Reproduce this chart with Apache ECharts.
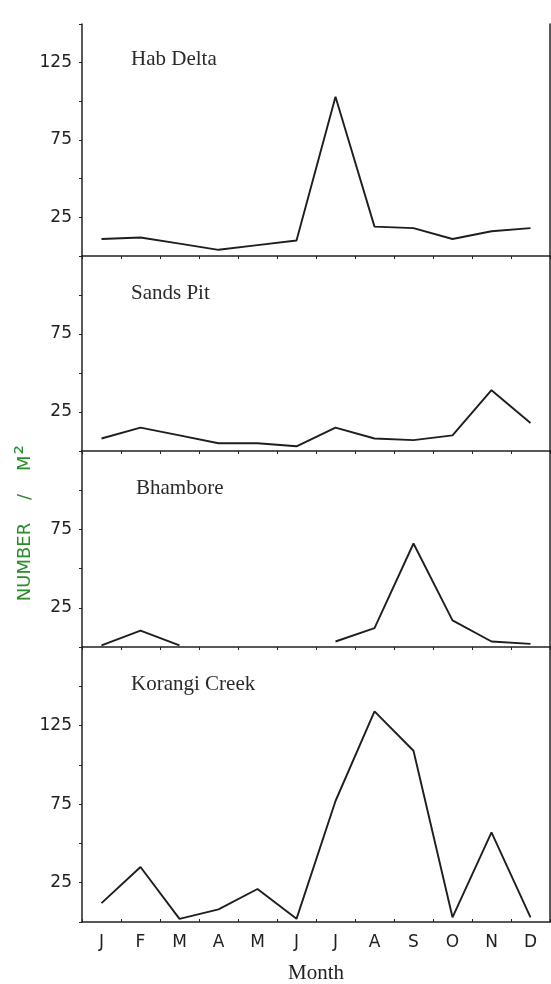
<!DOCTYPE html>
<html>
<head>
<meta charset="utf-8">
<script src="https://cdn.jsdelivr.net/npm/echarts@6/dist/echarts.min.js"></script>
<style>
  html, body { margin: 0; padding: 0; background: #fff; }
  #main { width: 551px; height: 984px; }
</style>
</head>
<body>
<div id="main"></div>
<script>
// data (number per m2, monthly)
const months = ['J', 'F', 'M', 'A', 'M', 'J', 'J', 'A', 'S', 'O', 'N', 'D'];
const habDelta = [11, 12, 8, 4, 7, 10, 103, 19, 18, 11, 16, 18];
const sandsPit = [8, 15, 10, 5, 5, 3, 15, 8, 7, 10, 39, 18];
const bhambore = [1, 10.5, 1, null, null, null, 3.5, 12, 66, 17, 3.5, 2];
const korangi = [12, 35, 2, 8, 21, 2, 77, 134, 109, 3, 57, 3];
const panelNames = ['Hab Delta', 'Sands Pit', 'Bhambore', 'Korangi Creek'];
const yMax = [150, 125, 125, 175];
const yLabelled = [25, 75, 125];

const allData = [habDelta, sandsPit, bhambore, korangi];

// layout of the four stacked panels
const tops = [24, 256, 451, 647];
const heights = [232, 195, 196, 275];
const titleLeft = [131, 131, 136, 131];
const ink = '#222';

const myChart = echarts.init(document.getElementById('main'));

const axisLine = { show: true, lineStyle: { color: ink, width: 1.5 } };

const option = {
  animation: false,
  backgroundColor: '#fff',
  title: panelNames.map((n, i) => ({
    text: n,
    left: titleLeft[i],
    top: tops[i] + (i === 0 ? 25 : 27),
    padding: 0,
    textStyle: {
      fontFamily: 'Liberation Serif',
      fontSize: 21,
      fontWeight: 'normal',
      color: '#2a2a2a',
      lineHeight: 21
    }
  })),
  grid: tops.map((t, i) => ({
    left: 82, right: 1, top: t, height: heights[i],
    containLabel: false,
    outerBoundsMode: 'none'
  })),
  xAxis: tops.map((t, i) => ({
    type: 'category',
    gridIndex: i,
    data: months,
    boundaryGap: true,
    axisLine: axisLine,
    axisTick: { show: true, length: 3, inside: i === 3, lineStyle: { color: ink } },
    axisLabel: {
      show: i === 3,
      interval: 0,
      color: ink,
      fontFamily: 'DejaVu Sans',
      fontSize: 17,
      margin: 12
    },
    name: i === 3 ? 'Month' : '',
    nameLocation: 'middle',
    nameGap: 41,
    nameTextStyle: { fontFamily: 'Liberation Serif', fontSize: 21, color: ink }
  })),
  yAxis: tops.map((t, i) => ({
    type: 'value',
    gridIndex: i,
    min: 0,
    max: yMax[i],
    interval: 25,
    axisLine: axisLine,
    axisTick: { show: true, length: 3, lineStyle: { color: ink } },
    splitLine: { show: false },
    axisLabel: {
      color: ink,
      fontFamily: 'DejaVu Sans',
      fontSize: 17,
      margin: 10,
      formatter: v => (yLabelled.indexOf(v) >= 0 && v < yMax[i]) ? String(v) : ''
    }
  })).concat(tops.map((t, i) => ({
    // right-hand frame line
    type: 'value',
    gridIndex: i,
    position: 'right',
    min: 0,
    max: yMax[i],
    axisLine: axisLine,
    axisTick: { show: false },
    axisLabel: { show: false },
    splitLine: { show: false }
  }))),
  series: allData.map((d, i) => ({
    name: panelNames[i],
    type: 'line',
    xAxisIndex: i,
    yAxisIndex: i,
    data: d,
    symbol: 'none',
    showSymbol: false,
    connectNulls: false,
    lineStyle: { color: '#1e1e1e', width: 1.9 }
  })),
  graphic: [{
    type: 'text',
    x: 25,
    y: 523,
    rotation: Math.PI / 2,
    style: {
      text: 'NUMBER    /    M{sup|²}',
      fill: '#2a8c2a',
      fontSize: 18,
      fontFamily: 'DejaVu Sans',
      fontWeight: 500,
      align: 'center',
      verticalAlign: 'middle',
      textAlign: 'center',
      textVerticalAlign: 'middle',
      rich: {
        sup: {
          fill: '#2a8c2a',
          fontSize: 24,
          fontFamily: 'DejaVu Sans',
          padding: [0, 0, 0, 1]
        }
      }
    }
  }]
};

myChart.setOption(option);
window.addEventListener('resize', function () {
  myChart.resize();
});
</script>
</body>
</html>
